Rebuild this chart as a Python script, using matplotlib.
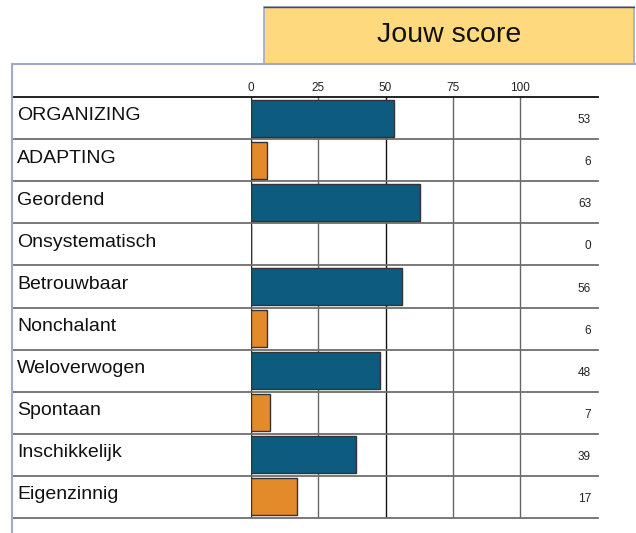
import matplotlib
matplotlib.use("Agg")
import matplotlib.pyplot as plt
from matplotlib.patches import Rectangle
from matplotlib.lines import Line2D

categories = ["ORGANIZING", "ADAPTING", "Geordend", "Onsystematisch", "Betrouwbaar",
              "Nonchalant", "Weloverwogen", "Spontaan", "Inschikkelijk", "Eigenzinnig"]
scores = [53, 6, 63, 0, 56, 6, 48, 7, 39, 17]
tick_values = [0, 25, 50, 75, 100]
tick_labels = ["0", "25", "50", "75", "100"]
title = "Jouw score"

BLUE = "#0E5B80"
ORANGE = "#E38A2B"
FRAME = "#A0A8CC"
YELLOW = "#FFD97E"

plt.rcParams['font.family'] = ['Liberation Sans', 'DejaVu Sans']

W, H = 636, 533
fig = plt.figure(figsize=(W / 100, H / 100), dpi=100)

def fx(px):
    return px / W

def fy(py):
    return 1 - py / H

# axes for the bars
ax_l, ax_r, ax_t, ax_b = 251, 598, 97, 518
ax = fig.add_axes([fx(ax_l), fy(ax_b), fx(ax_r - ax_l), fy(ax_t) - fy(ax_b)])
px_per_unit = (520 - 251) / 100
ax.set_xlim(0, (ax_r - ax_l) / px_per_unit)
n = len(categories)
ax.set_ylim(n - 0.5, -0.5)
ax.axis("off")

# vertical grid lines
grid_colors = ["#222222", "#666666", "#111111", "#666666", "#666666"]
for v, c in zip(tick_values, grid_colors):
    ax.axvline(v, color=c, lw=1.0, zorder=1)

# bars
colors = [BLUE if i % 2 == 0 else ORANGE for i in range(n)]
ax.barh(range(n), scores, height=0.88, color=colors, edgecolor="#333333",
        linewidth=1.0, zorder=3)

# row separators extending to the left frame
tr = ax.get_yaxis_transform()
x_left = (12 - ax_l) / (ax_r - ax_l)
for i in range(n + 1):
    y = i - 0.5
    c = "#111111" if i == 0 else "#6E6E6E"
    ax.add_line(Line2D([x_left, 1.0], [y, y], transform=tr, color=c,
                       lw=1.3, clip_on=False, zorder=2))

# category labels and value labels
x_lab = (17 - ax_l) / (ax_r - ax_l)
x_val = (591 - ax_l) / (ax_r - ax_l)
for i, (cat, s) in enumerate(zip(categories, scores)):
    ax.text(x_lab, i - 0.05, cat, transform=tr, ha="left", va="center",
            fontsize=14, color="#111111")
    ax.text(x_val, i + 0.05, str(s), transform=tr, ha="right", va="center",
            fontsize=8.5, color="#222222")

# tick labels on top
for v, lab in zip(tick_values, tick_labels):
    ax.text(v, -0.58, lab, ha="center", va="bottom", fontsize=8.5,
            color="#222222", clip_on=False)

# frame lines
fig.add_artist(Line2D([fx(12), fx(12)], [fy(64), fy(533)], color=FRAME, lw=1.5))
fig.add_artist(Line2D([fx(12), fx(636)], [fy(64), fy(64)], color=FRAME, lw=1.5))

# title box
box = Rectangle((fx(264), fy(64)), fx(634 - 264), fy(7) - fy(64),
                transform=fig.transFigure, facecolor=YELLOW,
                edgecolor=FRAME, lw=1.2)
fig.add_artist(box)
fig.add_artist(Line2D([fx(264), fx(634)], [fy(7), fy(7)], color="#3A4A7A", lw=1.0))
fig.text(fx(449), fy(35.5), title, ha="center", va="center", fontsize=20.5,
         color="#111111")

fig.savefig("out.png", dpi=100)
